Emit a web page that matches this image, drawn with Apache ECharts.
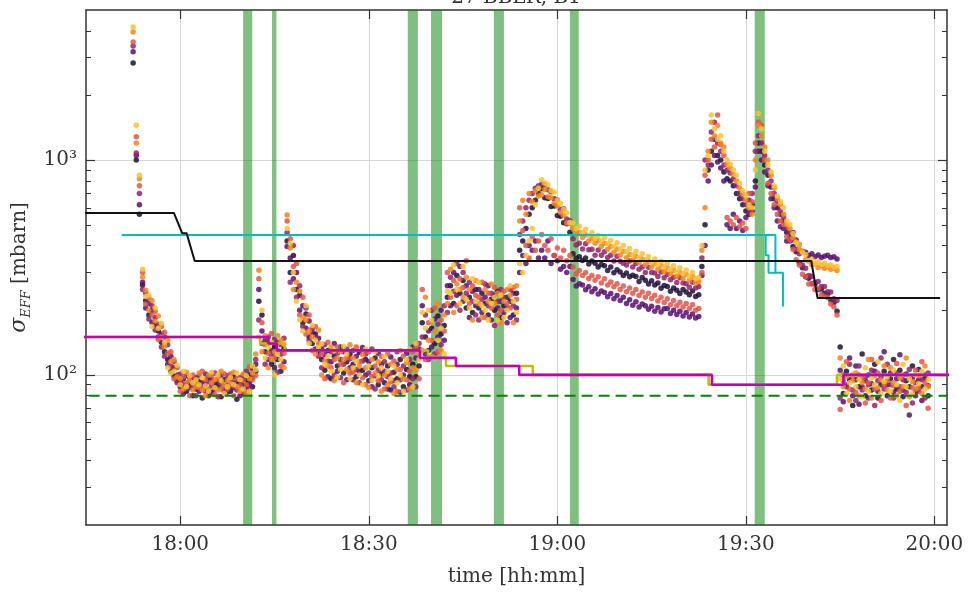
<!DOCTYPE html>
<html>
<head>
<meta charset="utf-8">
<script src="https://cdn.jsdelivr.net/npm/echarts@6/dist/echarts.min.js"></script>
<style>
  html, body { margin: 0; padding: 0; background: #fff; }
  #chart { width: 970px; height: 592px; }
</style>
</head>
<body>
<div id="chart"></div>
<script>
// ---------------------------------------------------------------------------
// Effective cross-section per bunch, sampled every 30 s from 17:52:30.
// One array per bunch colour (mbarn).
// ---------------------------------------------------------------------------
const sampleStart = '17:52:30';
const sampleStepSec = 30;

const bunchA = [ // darkest
  2835, 1000, 560, 262, 222, 190, 200, 170, 160, 142,
  128, 118, 104, 99, 94, 88, 96, 84, 92, 80,
  86, 93, 78, 90, 97, 83, 91, 88, 79, 95,
  90, 84, 98, 77, 92, 89, 95, 100, 88, 104,
  220, 190, 128, 140, 112, 135, 118, 104, 132, 420,
  300, 360, 250, 235, 175, 192, 150, 140, 155, 128,
  118, 105, 130, 96, 122, 110, 135, 102, 115, 125,
  112, 98, 127, 105, 118, 94, 108, 120, 90, 101,
  92, 110, 85, 103, 96, 118, 88, 106, 98, 112,
  98, 110, 175, 150, 130, 165, 140, 188, 155, 170,
  230, 260, 215, 290, 240, 275, 205, 230, 195, 250,
  205, 240, 215, 190, 225, 200, 245, 185, 210, 230,
  220, 190, 240, 380, 420, 480, 560, 600, 650, 700,
  735, 668, 662, 608, 612, 552, 548, 511, 506, 462,
  366, 349, 355, 341, 350, 328, 339, 331, 318, 327,
  322, 306, 318, 299, 309, 301, 290, 298, 286, 291,
  287, 272, 284, 276, 265, 274, 262, 268, 253, 261,
  258, 245, 254, 248, 239, 250, 243, 236, 246, 232,
  236, 320, 500, 900, 1100, 1250, 1050, 1000, 880, 820,
  800, 760, 700, 660, 620, 580, 560, 620, 800, 1200,
  1100, 950, 850, 750, 660, 600, 560, 520, 460, 440,
  396, 374, 334, 315, 286, 282, 266, 265, 250, 251,
  240, 238, 224, 217, 198, 135, 82, 104, 95, 72,
  95, 88, 125, 80, 100, 85, 112, 78, 90, 104,
  80, 96, 118, 86, 105, 79, 94, 88, 110, 84,
  106, 88, 96, 80
];

const bunchB = [
  3200, 1050, 620, 270, 205, 215, 176, 185, 150, 155,
  150, 112, 122, 108, 100, 93, 82, 99, 87, 95,
  97, 84, 92, 101, 80, 95, 86, 93, 100, 84,
  83, 96, 87, 93, 80, 99, 86, 92, 107, 112,
  250, 160, 145, 118, 130, 108, 142, 125, 115, 396,
  350, 280, 300, 200, 210, 165, 178, 158, 132, 148,
  132, 124, 98, 115, 140, 104, 118, 128, 95, 108,
  95, 122, 104, 134, 100, 115, 88, 99, 126, 112,
  104, 86, 121, 94, 112, 83, 100, 126, 90, 135,
  120, 132, 210, 125, 160, 135, 182, 150, 200, 145,
  260, 210, 300, 235, 320, 220, 260, 185, 245, 210,
  250, 195, 230, 260, 180, 235, 205, 220, 195, 175,
  185, 240, 205, 300, 360, 330, 400, 380, 420, 350,
  380, 350, 420, 330, 360, 340, 310, 320, 300, 320,
  278, 259, 266, 262, 249, 257, 244, 252, 238, 246,
  242, 231, 239, 226, 234, 222, 230, 215, 224, 211,
  219, 207, 214, 210, 202, 209, 198, 206, 196, 203,
  204, 193, 200, 191, 198, 188, 195, 186, 192, 184,
  187, 290, 400, 800, 950, 1050, 980, 920, 800, 500,
  480, 560, 480, 520, 470, 540, 650, 580, 750, 1100,
  1000, 880, 760, 660, 600, 520, 490, 480, 420, 420,
  460, 425, 405, 376, 372, 360, 366, 355, 362, 352,
  357, 361, 352, 355, 346, 105, 75, 88, 120, 80,
  110, 73, 88, 94, 78, 91, 104, 84, 98, 128,
  90, 102, 83, 96, 124, 85, 101, 65, 97, 80,
  95, 76, 100, 89
];

const bunchC = [
  3400, 1080, 700, 250, 240, 182, 210, 162, 172, 135,
  122, 138, 110, 115, 92, 101, 90, 86, 97, 89,
  80, 99, 88, 84, 93, 89, 102, 79, 91, 88,
  99, 88, 92, 85, 97, 82, 104, 87, 98, 118,
  180, 140, 112, 150, 124, 146, 103, 138, 148, 460,
  270, 400, 230, 260, 168, 205, 145, 165, 150, 122,
  108, 138, 116, 128, 100, 126, 97, 112, 132, 119,
  130, 106, 92, 116, 125, 102, 132, 86, 105, 95,
  115, 98, 102, 88, 128, 95, 110, 85, 118, 96,
  88, 140, 150, 190, 118, 200, 125, 172, 138, 210,
  195, 285, 245, 330, 200, 300, 240, 270, 220, 190,
  180, 225, 265, 210, 240, 170, 220, 250, 230, 205,
  250, 210, 180, 450, 520, 600, 650, 700, 740, 760,
  772, 768, 728, 712, 660, 652, 590, 594, 532, 522,
  430, 402, 410, 386, 408, 383, 385, 361, 381, 361,
  374, 352, 361, 339, 357, 338, 331, 325, 339, 318,
  330, 310, 318, 300, 317, 300, 298, 287, 301, 283,
  294, 277, 285, 269, 283, 268, 266, 256, 270, 254,
  258, 350, 1000, 950, 1350, 1500, 1200, 1100, 950, 900,
  870, 820, 760, 700, 660, 620, 570, 700, 1100, 1300,
  1200, 1050, 900, 800, 700, 640, 580, 540, 480, 460,
  425, 384, 366, 325, 314, 290, 288, 270, 272, 258,
  258, 244, 243, 226, 222, 78, 100, 90, 112, 85,
  76, 110, 85, 98, 90, 105, 72, 94, 120, 86,
  112, 90, 78, 102, 88, 95, 83, 106, 74, 92,
  84, 95, 78, 102
];

const bunchD = [
  3550, 1283, 760, 300, 214, 228, 190, 198, 146, 168,
  158, 126, 128, 96, 108, 84, 98, 92, 80, 100,
  92, 87, 104, 95, 86, 99, 81, 97, 86, 101,
  86, 101, 80, 96, 89, 94, 90, 109, 95, 99,
  280, 175, 138, 126, 156, 120, 130, 110, 126, 520,
  430, 320, 330, 190, 230, 155, 190, 130, 168, 140,
  125, 96, 142, 108, 118, 135, 112, 92, 120, 102,
  103, 135, 115, 97, 90, 128, 98, 110, 94, 122,
  86, 125, 93, 116, 84, 106, 122, 95, 104, 128,
  134, 96, 250, 118, 175, 145, 205, 128, 180, 160,
  300, 230, 275, 210, 280, 255, 340, 215, 260, 235,
  230, 270, 185, 240, 205, 255, 190, 200, 245, 215,
  205, 255, 225, 600, 470, 400, 350, 440, 380, 420,
  450, 400, 380, 430, 360, 390, 350, 380, 340, 360,
  318, 296, 306, 290, 300, 281, 290, 276, 286, 268,
  280, 262, 271, 257, 266, 250, 259, 244, 254, 240,
  250, 234, 243, 230, 240, 227, 235, 221, 230, 217,
  226, 212, 222, 210, 218, 207, 215, 204, 212, 200,
  204, 300, 850, 1000, 1250, 1150, 1620, 1180, 1050, 540,
  520, 500, 540, 490, 510, 480, 700, 640, 1200, 1500,
  1450, 1000, 780, 700, 620, 560, 520, 500, 440, 425,
  384, 344, 325, 294, 286, 265, 266, 250, 252, 236,
  232, 229, 214, 207, 190, 69, 94, 115, 86, 99,
  83, 100, 96, 74, 92, 118, 86, 102, 76, 90,
  94, 78, 89, 113, 84, 100, 72, 98, 87, 105,
  87, 115, 92, 70
];

const bunchE = [
  3950, 1200, 820, 285, 248, 200, 222, 178, 188, 150,
  136, 145, 115, 118, 98, 96, 86, 103, 94, 85,
  88, 102, 85, 80, 100, 92, 95, 85, 104, 90,
  94, 91, 103, 88, 84, 101, 83, 96, 102, 125,
  307, 128, 152, 108, 119, 128, 152, 145, 108, 555,
  390, 250, 270, 245, 185, 180, 160, 150, 125, 162,
  100, 116, 110, 135, 94, 120, 128, 118, 106, 138,
  120, 92, 110, 124, 108, 87, 118, 102, 115, 84,
  100, 90, 112, 82, 106, 130, 96, 114, 86, 108,
  105, 125, 130, 230, 145, 122, 160, 215, 130, 190,
  215, 310, 195, 265, 250, 230, 285, 250, 180, 275,
  215, 185, 250, 220, 265, 215, 240, 175, 220, 250,
  235, 175, 260, 520, 650, 560, 700, 640, 720, 680,
  690, 730, 676, 668, 628, 612, 568, 552, 510, 508,
  478, 450, 462, 436, 449, 420, 432, 410, 421, 396,
  410, 385, 396, 372, 386, 362, 375, 351, 364, 342,
  356, 334, 346, 326, 338, 318, 330, 310, 322, 302,
  315, 296, 307, 288, 300, 281, 293, 275, 286, 268,
  272, 380, 600, 1100, 1500, 1300, 1450, 1200, 1150, 960,
  920, 860, 800, 740, 700, 650, 600, 560, 1000, 1450,
  1300, 1150, 1000, 850, 740, 660, 620, 560, 500, 480,
  436, 415, 384, 374, 344, 338, 326, 328, 316, 322,
  314, 319, 310, 314, 306, 120, 88, 98, 76, 94,
  102, 80, 92, 86, 118, 78, 99, 87, 95, 110,
  85, 108, 92, 80, 97, 88, 120, 79, 93, 86,
  99, 82, 110, 88
];

const bunchF = [ // lightest
  4170, 1455, 850, 310, 232, 235, 168, 205, 165, 174,
  142, 108, 102, 104, 111, 90, 104, 88, 99, 92,
  95, 90, 97, 89, 84, 103, 87, 100, 94, 82,
  88, 97, 90, 102, 95, 86, 99, 84, 110, 106,
  150, 200, 120, 135, 142, 100, 125, 118, 140, 480,
  410, 300, 220, 180, 160, 210, 140, 170, 145, 135,
  140, 112, 122, 104, 130, 98, 106, 136, 125, 96,
  108, 115, 100, 90, 132, 110, 94, 128, 99, 108,
  122, 104, 96, 110, 92, 100, 84, 118, 132, 88,
  140, 118, 195, 165, 200, 180, 120, 145, 165, 125,
  245, 240, 325, 250, 215, 320, 225, 205, 280, 220,
  270, 210, 200, 180, 215, 230, 180, 235, 185, 200,
  260, 220, 195, 330, 300, 360, 420, 480, 620, 740,
  810, 782, 768, 722, 708, 650, 630, 590, 568, 512,
  510, 480, 492, 462, 476, 446, 460, 432, 446, 420,
  436, 410, 424, 398, 412, 386, 400, 375, 388, 362,
  376, 352, 366, 344, 356, 334, 346, 326, 338, 318,
  330, 310, 322, 302, 315, 296, 308, 288, 300, 280,
  284, 400, 900, 1050, 1620, 1400, 1250, 1300, 1100, 1000,
  960, 900, 850, 780, 720, 680, 620, 600, 900, 1650,
  1400, 1100, 950, 880, 760, 680, 640, 600, 520, 500,
  455, 414, 405, 372, 364, 340, 345, 330, 336, 326,
  331, 322, 326, 317, 320, 96, 110, 82, 92, 101,
  88, 95, 79, 108, 84, 97, 90, 115, 82, 93,
  98, 84, 105, 90, 76, 112, 88, 96, 82, 100,
  91, 104, 86, 95
];

const bunchSeries = [bunchA, bunchB, bunchC, bunchD, bunchE, bunchF];
const bunchColors = ['#1d1135', '#57106e', '#8e2469', '#e0554a', '#f4841c', '#f9c230'];

// Reference / model levels (mbarn), each value holds from its time to the next one
const blackTimes   = ['17:40', '17:59:00', '18:00:18', '18:01:00', '18:02:18', '19:40:24', '19:41:24', '20:00:54'];
const blackValues  = [567, 567, 457, 457, 339, 339, 228, 228];

const cyanTimes    = ['17:50:42', '19:34:42', '19:35:54'];
const cyanValues   = [448, 299, 208];
const cyan2Times   = ['17:50:42', '19:33:09', '19:33:36', '19:34:42'];
const cyan2Values  = [448, 361, 299, 299];

const magentaTimes  = ['17:40', '18:14:02', '18:15:22', '18:38:08', '18:43:52', '18:53:56', '19:24:36', '19:45:32', '20:10'];
const magentaValues = [150, 140, 130, 120, 110, 100, 90, 100, 100];
const oliveTimes    = ['17:40', '18:12:43', '18:16:38', '18:39:25', '18:42:17', '18:56:06', '19:24:04', '19:44:30', '20:10'];
const oliveValues   = [150, 140, 130, 120, 110, 100, 90, 100, 100];

const floorTimes  = ['17:40', '20:10'];
const floorValues = [80, 80];

// Shaded intervals
const bandStart = ['18:10:00', '18:14:36', '18:36:12', '18:39:54', '18:49:54', '19:02:00', '19:31:24'];
const bandEnd   = ['18:11:27', '18:15:18', '18:37:48', '18:41:39', '18:51:30', '19:03:24', '19:33:00'];

// Axes
const xRange = ['17:45', '20:02'];
const xTickLabels = ['18:00', '18:30', '19:00', '19:30', '20:00'];
const yRange = [20, 5000];
const yMajor = [100, 1000];
const yMinor = [30, 40, 50, 60, 70, 80, 90, 200, 300, 400, 500, 600, 700, 800, 900, 2000, 3000, 4000];

// ---------------------------------------------------------------------------
function toMin(s) {
  const p = s.split(':').map(Number);
  return p[0] * 60 + p[1] + (p[2] || 0) / 60;
}
function fmtMin(v) {
  const h = Math.floor(v / 60);
  const m = Math.round(v - h * 60);
  return h + ':' + String(m).padStart(2, '0');
}
const t0 = toMin(sampleStart);
const pairs = (times, vals) => times.map((t, i) => [toMin(t), vals[i]]);

const FONT = '"DejaVu Serif", "Liberation Serif", serif';
const INK = '#333333';
const xTickVals = xTickLabels.map(toMin);
const xMin = toMin(xRange[0]);
const xMax = toMin(xRange[1]);
const supDigits = { 2: '\u00b2', 3: '\u00b3' };

const scatterSeries = bunchSeries.map((vals, k) => ({
  type: 'scatter',
  name: 'bunch' + k,
  data: vals.map((v, i) => [t0 + i * sampleStepSec / 60, v]),
  symbolSize: 5.5,
  itemStyle: { color: bunchColors[k], opacity: 0.85 },
  z: 3
}));

function lineSeries(name, data, color, width, opts) {
  return Object.assign({
    type: 'line', name, data, showSymbol: false, symbol: 'none',
    lineStyle: { color, width }, z: 5, silent: true
  }, opts || {});
}

const baseYAxis = {
  type: 'log', logBase: 10, min: yRange[0], max: yRange[1], gridIndex: 0
};

const option = {
  animation: false,
  backgroundColor: '#ffffff',
  grid: { left: 86, right: 23, top: 10, bottom: 65, containLabel: false },
  graphic: [{
    type: 'text', x: 516, y: 8, z: 10,
    style: {
      text: '27 BBLR, B1', fill: INK, font: '20px ' + FONT,
      align: 'center', textAlign: 'center', verticalAlign: 'bottom', textVerticalAlign: 'bottom'
    }
  }],
  xAxis: [{
    type: 'value', position: 'bottom', min: xMin, max: xMax,
    axisLine: { show: true, onZero: false, lineStyle: { color: INK, width: 1.5 } },
    axisTick: { show: true, inside: true, length: 9, customValues: xTickVals, lineStyle: { color: INK, width: 1.2 } },
    axisLabel: { customValues: xTickVals, formatter: fmtMin, fontFamily: FONT, fontSize: 20, color: INK, margin: 10 },
    splitLine: { show: true, lineStyle: { color: '#d6d6d6', width: 1 } },
    name: 'time [hh:mm]', nameLocation: 'middle', nameGap: 42,
    nameTextStyle: { fontFamily: FONT, fontSize: 20, color: INK }
  }, {
    type: 'value', position: 'top', min: xMin, max: xMax,
    axisLine: { show: true, onZero: false, lineStyle: { color: INK, width: 1.5 } },
    axisTick: { show: true, inside: true, length: 9, customValues: xTickVals, lineStyle: { color: INK, width: 1.2 } },
    axisLabel: { show: false },
    splitLine: { show: false }
  }],
  yAxis: [
    Object.assign({}, baseYAxis, {
      position: 'left',
      axisLine: { show: true, onZero: false, lineStyle: { color: INK, width: 1.5 } },
      axisTick: { show: true, inside: true, length: 9, customValues: yMajor, lineStyle: { color: INK, width: 1.2 } },
      axisLabel: {
        customValues: yMajor, fontFamily: FONT, fontSize: 20, color: INK, margin: 9,
        formatter: v => '10' + supDigits[Math.round(Math.log10(v))]
      },
      splitLine: { show: true, lineStyle: { color: '#d6d6d6', width: 1 } },
      name: '{s|\u03c3}{e|EFF}{n| [mbarn]}', nameLocation: 'middle', nameRotate: 90, nameGap: 52,
      nameTextStyle: {
        color: INK,
        rich: {
          s: { fontFamily: FONT, fontSize: 22, fontStyle: 'italic', color: INK, lineHeight: 26, verticalAlign: 'middle' },
          e: { fontFamily: FONT, fontSize: 13, fontStyle: 'italic', color: INK, lineHeight: 16, verticalAlign: 'bottom' },
          n: { fontFamily: FONT, fontSize: 20, color: INK, lineHeight: 26, verticalAlign: 'middle' }
        }
      }
    }),
    Object.assign({}, baseYAxis, {
      position: 'left', offset: 0,
      axisLine: { show: false },
      axisTick: { show: true, inside: true, length: 5, customValues: yMinor, lineStyle: { color: INK, width: 1 } },
      axisLabel: { show: false }, splitLine: { show: false }
    }),
    Object.assign({}, baseYAxis, {
      position: 'right', offset: 0,
      axisLine: { show: true, onZero: false, lineStyle: { color: INK, width: 1.5 } },
      axisTick: { show: true, inside: true, length: 9, customValues: yMajor, lineStyle: { color: INK, width: 1.2 } },
      axisLabel: { show: false }, splitLine: { show: false }
    }),
    Object.assign({}, baseYAxis, {
      position: 'right', offset: 0,
      axisLine: { show: false },
      axisTick: { show: true, inside: true, length: 5, customValues: yMinor, lineStyle: { color: INK, width: 1 } },
      axisLabel: { show: false }, splitLine: { show: false }
    })
  ],
  series: [
    {
      type: 'line', name: 'bands', data: [], z: 1, silent: true,
      markArea: {
        silent: true,
        itemStyle: { color: 'rgba(0,128,0,0.5)' },
        data: bandStart.map((s, i) => [{ xAxis: toMin(s) }, { xAxis: toMin(bandEnd[i]) }])
      }
    },
    ...scatterSeries,
    lineSeries('floor', pairs(floorTimes, floorValues), '#0a800a', 2,
      { lineStyle: { color: '#0a800a', width: 2, type: [11, 6] } }),
    lineSeries('olive', pairs(oliveTimes, oliveValues), '#bfbf00', 2.6, { step: 'end', z: 5 }),
    lineSeries('magenta', pairs(magentaTimes, magentaValues), '#bf00bf', 2.6, { step: 'end', z: 6 }),
    lineSeries('cyan2', pairs(cyan2Times, cyan2Values), '#00bfbf', 2, { step: 'end', z: 6 }),
    lineSeries('cyan', pairs(cyanTimes, cyanValues), '#00bfbf', 2, { step: 'end', z: 6 }),
    lineSeries('black', pairs(blackTimes, blackValues), '#111111', 2, { z: 6 })
  ]
};

const chart = echarts.init(document.getElementById('chart'), null, { renderer: 'canvas' });
chart.setOption(option);
</script>
</body>
</html>
